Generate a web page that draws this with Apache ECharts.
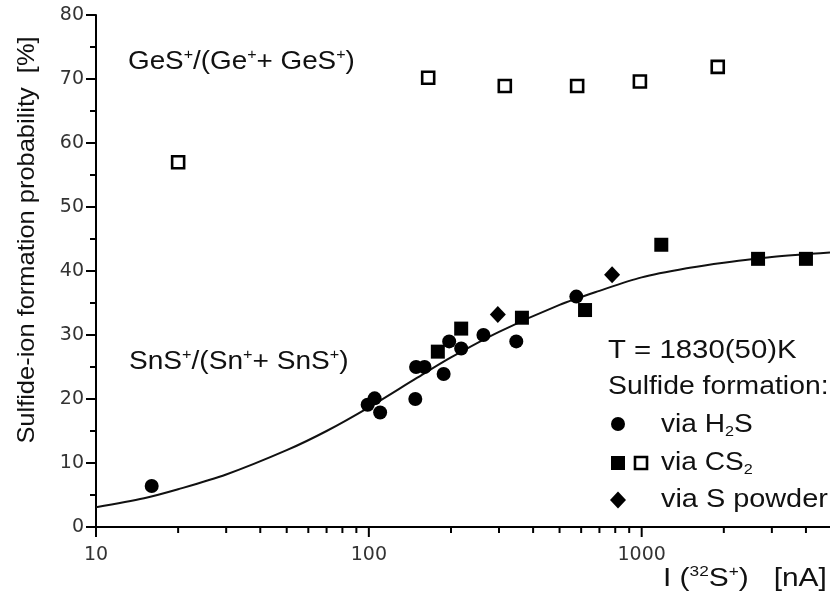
<!DOCTYPE html>
<html>
<head>
<meta charset="utf-8">
<title>Sulfide-ion formation probability</title>
<script src="https://cdn.jsdelivr.net/npm/echarts@6/dist/echarts.min.js"></script>
<style>
  html, body { margin: 0; padding: 0; background: #fff; }
  #chart { width: 830px; height: 606px; }
</style>
</head>
<body>
<div id="chart"></div>
<script>
// Sulfide-ion formation probability vs. 32S+ beam current (nA), T = 1830(50) K

// SnS+/(Sn+ + SnS+) — sulfide formed via H2S
const h2sCurrent = [16, 99, 105, 110, 148, 149, 160, 188, 197, 218, 263, 347, 576];
const h2sProb    = [6.4, 19.1, 20.1, 17.9, 20.0, 25.0, 25.0, 23.9, 29.0, 27.9, 30.0, 29.0, 36.0];

// SnS+/(Sn+ + SnS+) — sulfide formed via CS2
const cs2Current = [179, 218, 364, 620, 1180, 2670, 4000];
const cs2Prob    = [27.4, 31.0, 32.7, 33.9, 44.1, 41.9, 41.9];

// SnS+/(Sn+ + SnS+) — sulfide formed via S powder
const sPowderCurrent = [297, 779];
const sPowderProb    = [33.2, 39.4];

// GeS+/(Ge+ + GeS+) — via CS2
const gesCurrent = [20, 165, 315, 580, 985, 1900];
const gesProb    = [57.0, 70.2, 68.9, 68.9, 69.6, 71.9];

// Fitted curve through the SnS+ data
const fitCurrent = [10, 15, 20, 30, 50, 70, 100, 150, 200, 300, 500, 700, 1000, 1500, 2000, 3000, 4900];
const fitProb    = [3.1, 4.5, 5.9, 8.2, 12.0, 15.0, 18.7, 23.3, 26.5, 30.5, 34.7, 36.9, 39.0, 40.5, 41.3, 42.2, 42.9];

// Axis ticks
const xMajorTicks = [10, 100, 1000];
const xMinorTicks = [20, 30, 40, 50, 60, 70, 80, 90, 200, 300, 400, 500, 600, 700, 800, 900, 2000, 3000, 4000];
const yTicks = [0, 10, 20, 30, 40, 50, 60, 70, 80];

const FONT = '"Liberation Sans", Arial, Helvetica, sans-serif';
const TICK_FONT = '"DejaVu Sans", "Liberation Sans", sans-serif';
const INK = '#111';

function pairs(xs, ys) { return xs.map((x, i) => [x, ys[i]]); }

const chart = echarts.init(document.getElementById('chart'), null, { renderer: 'canvas' });

const richBase = {
  n: { fontFamily: FONT, fontSize: 26, lineHeight: 29, color: INK },
  p: { fontFamily: FONT, fontSize: 15, lineHeight: 15, color: INK, verticalAlign: 'top' },
  b: { fontFamily: FONT, fontSize: 15, lineHeight: 15, color: INK, verticalAlign: 'bottom' }
};

function label(x, y, text, sx, extra) {
  return Object.assign({
    type: 'text',
    x: x, y: y,
    scaleX: sx || 1,
    silent: true,
    z: 10,
    style: {
      text: text,
      rich: richBase,
      fill: INK,
      font: '26px ' + FONT,
      align: 'left',
      verticalAlign: 'middle'
    }
  }, extra || {});
}

const option = {
  animation: false,
  backgroundColor: '#fff',
  grid: { left: 96, right: 0, top: 15, bottom: 79, containLabel: false },
  xAxis: {
    type: 'log',
    logBase: 10,
    min: xMajorTicks[0],
    max: 4900,
    axisLine: { show: true, onZero: false, lineStyle: { color: '#000', width: 2 } },
    axisTick: { show: false },
    minorTick: { show: false },
    splitLine: { show: false },
    axisLabel: {
      show: true,
      margin: 19,
      fontFamily: TICK_FONT,
      fontSize: 19,
      color: '#333',
      showMinLabel: true,
      showMaxLabel: false,
      formatter: v => (xMajorTicks.indexOf(Math.round(v)) >= 0 ? String(Math.round(v)) : '')
    }
  },
  yAxis: {
    type: 'value',
    min: yTicks[0],
    max: yTicks[yTicks.length - 1],
    interval: 10,
    axisLine: { show: true, lineStyle: { color: '#000', width: 2 } },
    axisTick: { show: true, inside: false, length: 10, lineStyle: { color: '#000', width: 2 } },
    minorTick: { show: true, splitNumber: 2, length: 6, lineStyle: { color: '#000', width: 2 } },
    splitLine: { show: false },
    axisLabel: {
      margin: 12,
      fontFamily: TICK_FONT,
      fontSize: 19,
      color: '#333'
    }
  },
  series: [
    {
      name: 'fit',
      type: 'line',
      data: pairs(fitCurrent, fitProb),
      smooth: 0.3,
      showSymbol: false,
      symbol: 'none',
      lineStyle: { color: '#111', width: 2 },
      z: 2
    },
    {
      name: 'x ticks',
      type: 'custom',
      clip: false,
      silent: true,
      z: 3,
      data: xMajorTicks.map(v => [v, 0, 1]).concat(xMinorTicks.map(v => [v, 0, 0])),
      encode: { x: 0, y: 1 },
      renderItem: function (params, api) {
        const p = api.coord([api.value(0), 0]);
        const len = api.value(2) ? 10 : 6;
        return {
          type: 'line',
          shape: { x1: p[0], y1: p[1], x2: p[0], y2: p[1] + len },
          style: { stroke: '#000', lineWidth: 2 }
        };
      }
    },
    {
      name: 'via H2S',
      type: 'scatter',
      data: pairs(h2sCurrent, h2sProb),
      symbol: 'circle',
      symbolSize: 14,
      itemStyle: { color: '#000', opacity: 1 },
      z: 5
    },
    {
      name: 'via CS2',
      type: 'scatter',
      data: pairs(cs2Current, cs2Prob),
      symbol: 'rect',
      symbolSize: 14,
      itemStyle: { color: '#000', opacity: 1 },
      z: 5
    },
    {
      name: 'via S powder',
      type: 'scatter',
      data: pairs(sPowderCurrent, sPowderProb),
      symbol: 'diamond',
      symbolSize: [16, 17],
      itemStyle: { color: '#000', opacity: 1 },
      z: 5
    },
    {
      name: 'GeS via CS2',
      type: 'scatter',
      data: pairs(gesCurrent, gesProb),
      symbol: 'rect',
      symbolSize: 12,
      itemStyle: { color: '#fff', borderColor: '#000', borderWidth: 2.6, opacity: 1 },
      z: 5
    }
  ],
  graphic: [
    // axis titles
    {
      type: 'text',
      x: 27, y: 240,
      rotation: Math.PI / 2,
      scaleX: 1.06,
      silent: true,
      style: {
        text: 'Sulfide-ion formation probability  [%]',
        fill: INK,
        font: '24px ' + FONT,
        align: 'center',
        verticalAlign: 'middle'
      }
    },
    label(663, 579, '{n|I (}{p|32}{n|S}{p|+}{n|)   [nA]}', 1.15),
    // ratio annotations
    label(128, 62, '{n|GeS}{p|+}{n|/(Ge}{p|+}{n|+ GeS}{p|+}{n|)}', 1.07),
    label(129, 362, '{n|SnS}{p|+}{n|/(Sn}{p|+}{n|+ SnS}{p|+}{n|)}', 1.08),
    // key
    label(608, 351, '{n|T = 1830(50)K}', 1.13),
    label(608, 387, '{n|Sulfide formation:}', 1.09),
    label(661, 425, '{n|via H}{b|2}{n|S}', 1.08),
    label(661, 463, '{n|via CS}{b|2}', 1.08),
    label(661, 500, '{n|via S powder}', 1.11),
    { type: 'circle', shape: { cx: 618, cy: 424, r: 7 }, style: { fill: '#000' }, silent: true },
    { type: 'rect', shape: { x: 611, y: 456, width: 14, height: 14 }, style: { fill: '#000' }, silent: true },
    { type: 'rect', shape: { x: 635, y: 457, width: 12, height: 12 }, style: { fill: '#fff', stroke: '#000', lineWidth: 2.6 }, silent: true },
    { type: 'polygon', shape: { points: [[618, 491.5], [626, 500], [618, 508.5], [610, 500]] }, style: { fill: '#000' }, silent: true }
  ]
};

chart.setOption(option);
</script>
</body>
</html>
